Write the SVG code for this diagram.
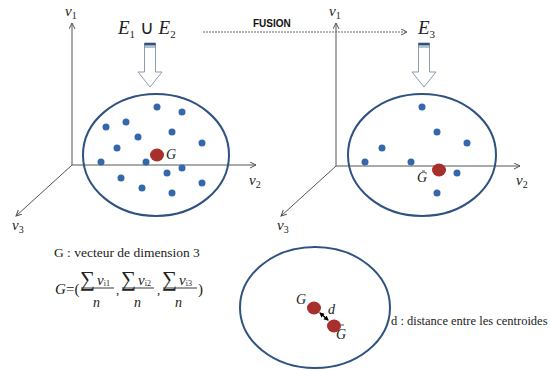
<svg xmlns="http://www.w3.org/2000/svg" width="550" height="371" viewBox="0 0 550 371">
<style>
.axis{stroke:#555;stroke-width:1;fill:none}
.ell{fill:none;stroke:#2f5281;stroke-width:2}
.dot{fill:#3568ab}
.red{fill:#a8302c}
.lbl{font-family:'Liberation Serif','Times New Roman',serif;font-style:italic;fill:#222}
.txt{font-family:'Liberation Serif','Times New Roman',serif;fill:#222}
.blk{fill:#fff;stroke:#8d9bb0;stroke-width:1}
</style>
<defs>
<marker id="open" markerWidth="8" markerHeight="8" refX="6" refY="3" orient="auto" markerUnits="userSpaceOnUse">
<path d="M0,0 L6,3 L0,6" fill="none" stroke="#555" stroke-width="1"/>
</marker>
<marker id="bh" markerWidth="6" markerHeight="6" refX="4" refY="2.5" orient="auto" markerUnits="userSpaceOnUse">
<path d="M0,0 L5,2.5 L0,5 Z" fill="#000"/>
</marker>
<marker id="bt" markerWidth="6" markerHeight="6" refX="1" refY="2.5" orient="auto" markerUnits="userSpaceOnUse">
<path d="M5,0 L0,2.5 L5,5 Z" fill="#000"/>
</marker>
</defs>

<g id="left-axes">
<line class="axis" x1="72" y1="165" x2="72" y2="23" marker-end="url(#open)"/>
<line class="axis" x1="72" y1="165" x2="256" y2="165" marker-end="url(#open)"/>
<line class="axis" x1="72" y1="165" x2="16" y2="216" marker-end="url(#open)"/>
<text class="lbl" x="65" y="16" font-size="15">v<tspan font-size="10" dy="3" font-style="normal">1</tspan></text>
<text class="lbl" x="249" y="185" font-size="15">v<tspan font-size="10" dy="3" font-style="normal">2</tspan></text>
<text class="lbl" x="12" y="230" font-size="15">v<tspan font-size="10" dy="3" font-style="normal">3</tspan></text>
</g>

<g id="set-E1uE2">
<text class="lbl" x="118" y="34" font-size="19">E<tspan font-size="11" dy="4" font-style="normal">1</tspan><tspan dy="-4" font-style="normal"> ∪ </tspan>E<tspan font-size="11" dy="4" font-style="normal">2</tspan></text>
</g>

<g id="cluster-left">
<ellipse class="ell" cx="156" cy="155" rx="73" ry="61"/>
<g class="dot">
<circle cx="157" cy="107" r="3.5"/><circle cx="182" cy="112" r="3.5"/>
<circle cx="106" cy="127" r="3.5"/><circle cx="126" cy="122" r="3.5"/>
<circle cx="138" cy="137" r="3.5"/><circle cx="172" cy="132" r="3.5"/>
<circle cx="202" cy="143" r="3.5"/><circle cx="117" cy="148" r="3.5"/>
<circle cx="101" cy="162" r="3.5"/><circle cx="146" cy="162" r="3.5"/>
<circle cx="167" cy="173" r="3.5"/><circle cx="182" cy="168" r="3.5"/>
<circle cx="121" cy="178" r="3.5"/><circle cx="142" cy="188" r="3.5"/>
<circle cx="172" cy="193" r="3.5"/><circle cx="202" cy="183" r="3.5"/>
</g>
<ellipse class="red" cx="157" cy="155" rx="7" ry="6.5"/>
<text class="lbl" x="166" y="159" font-size="14">G</text>
</g>

<g id="right-axes">
<line class="axis" x1="336" y1="166" x2="336" y2="23" marker-end="url(#open)"/>
<line class="axis" x1="336" y1="166" x2="520" y2="166" marker-end="url(#open)"/>
<line class="axis" x1="336" y1="166" x2="281" y2="216" marker-end="url(#open)"/>
<text class="lbl" x="329" y="16" font-size="15">v<tspan font-size="10" dy="3" font-style="normal">1</tspan></text>
<text class="lbl" x="516" y="185" font-size="15">v<tspan font-size="10" dy="3" font-style="normal">2</tspan></text>
<text class="lbl" x="277" y="230" font-size="15">v<tspan font-size="10" dy="3" font-style="normal">3</tspan></text>
</g>

<g id="set-E3">
<text class="lbl" x="418" y="34" font-size="19">E<tspan font-size="11" dy="4" font-style="normal">3</tspan></text>
</g>

<g id="cluster-right">
<ellipse class="ell" cx="422" cy="155" rx="74" ry="61"/>
<g class="dot">
<circle cx="422" cy="107" r="3.5"/><circle cx="437" cy="132" r="3.5"/>
<circle cx="467" cy="143" r="3.5"/><circle cx="382" cy="148" r="3.5"/>
<circle cx="365" cy="162" r="3.5"/><circle cx="411" cy="162" r="3.5"/>
<circle cx="457" cy="173" r="3.5"/><circle cx="437" cy="193" r="3.5"/>
</g>
<ellipse class="red" cx="439" cy="170" rx="7" ry="6.5"/>
<text class="lbl" x="417" y="182" font-size="14">G</text>
<line x1="422" y1="171" x2="425" y2="171" stroke="#222" stroke-width="0.8"/>
</g>

<g id="connectors">
<line x1="203" y1="32" x2="407" y2="32" stroke="#666" stroke-width="1" stroke-dasharray="2,1" marker-end="url(#open)"/>
<text x="253" y="27" font-family="'Liberation Sans',Arial,sans-serif" font-weight="bold" font-size="10" fill="#111">FUSION</text>
<g id="block-arrow-left">
<polygon class="blk" points="144.5,43 155.5,43 155.5,72 162,72 150,87 138,72 144.5,72"/>
<rect x="144.5" y="43" width="11" height="2.5" fill="#2f5281"/>
<line x1="144.5" y1="47" x2="155.5" y2="47" stroke="#6f86a8" stroke-width="1"/>
</g>
<g id="block-arrow-right">
<polygon class="blk" points="418.5,43 429.5,43 429.5,72 436,72 424,87 412,72 418.5,72"/>
<rect x="418.5" y="43" width="11" height="2.5" fill="#2f5281"/>
<line x1="418.5" y1="47" x2="429.5" y2="47" stroke="#6f86a8" stroke-width="1"/>
</g>
<line x1="320" y1="313" x2="328" y2="320" stroke="#000" stroke-width="1.6" marker-start="url(#bt)" marker-end="url(#bh)"/>
</g>

<g id="definition">
<text class="txt" x="54" y="257" font-size="13.5">G : vecteur de dimension 3</text>
<g id="formula">
<text class="lbl" x="55" y="294" font-size="15">G</text>
<text class="txt" x="66" y="294" font-size="15">=(</text>
<text class="txt" x="80" y="286" font-size="21">∑</text>
<text class="lbl" x="97" y="285" font-size="15">v<tspan font-size="8" dy="1" font-style="normal">i1</tspan></text>
<line x1="81" y1="288" x2="114" y2="288" stroke="#222" stroke-width="0.9"/>
<text class="lbl" x="93" y="307" font-size="14">n</text>
<text class="txt" x="116" y="294" font-size="13">,</text>
<text class="txt" x="121" y="286" font-size="21">∑</text>
<text class="lbl" x="138" y="285" font-size="15">v<tspan font-size="8" dy="1" font-style="normal">i2</tspan></text>
<line x1="122" y1="288" x2="154" y2="288" stroke="#222" stroke-width="0.9"/>
<text class="lbl" x="134" y="307" font-size="14">n</text>
<text class="txt" x="157" y="294" font-size="13">,</text>
<text class="txt" x="162" y="286" font-size="21">∑</text>
<text class="lbl" x="179" y="285" font-size="15">v<tspan font-size="8" dy="1" font-style="normal">i3</tspan></text>
<line x1="163" y1="288" x2="197" y2="288" stroke="#222" stroke-width="0.9"/>
<text class="lbl" x="175" y="307" font-size="14">n</text>
<text class="txt" x="198" y="294" font-size="15">)</text>
</g>
</g>

<g id="centroid-distance">
<ellipse class="ell" cx="315" cy="307.5" rx="75" ry="60.5"/>
<ellipse class="red" cx="314" cy="308" rx="7" ry="6.5"/>
<ellipse class="red" cx="334" cy="326" rx="7" ry="6.5"/>
<text class="lbl" x="296" y="304" font-size="14">G</text>
<text class="lbl" x="328" y="314" font-size="14">d</text>
<text class="lbl" x="336" y="339" font-size="14">G</text>
<line x1="341" y1="325" x2="344" y2="325" stroke="#222" stroke-width="0.8"/>
<text class="txt" x="391" y="325" font-size="12.5">d : distance entre les centroides</text>
</g>
</svg>
